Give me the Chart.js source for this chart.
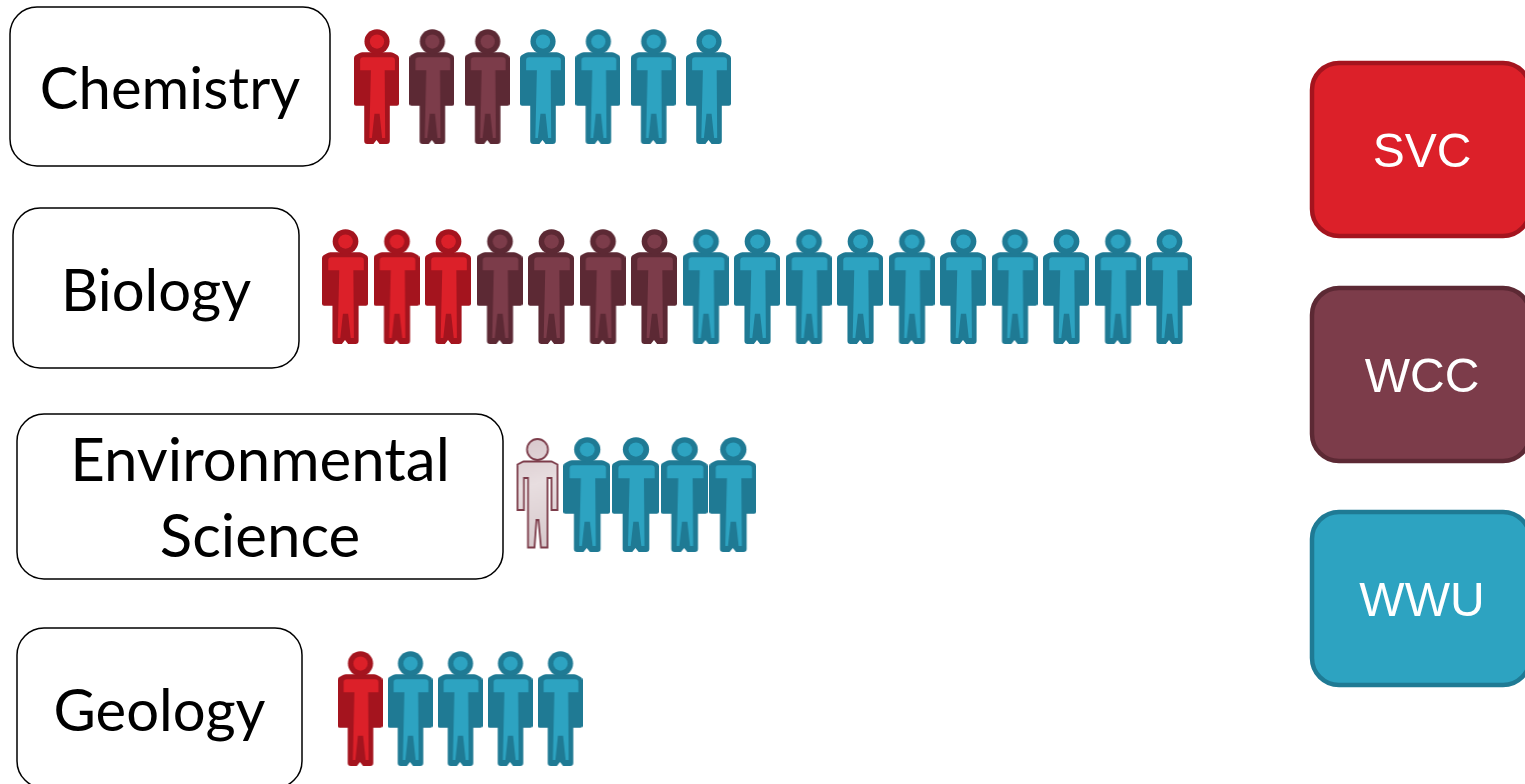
<!DOCTYPE html>
<html lang="en">
<head>
<meta charset="UTF-8">
<title>Students by subject</title>
<script src="https://cdn.jsdelivr.net/npm/chart.js"></script>
<style>
    body { margin: 0; background: #fff; }
    canvas { display: block; }
</style>
</head>
<body>
<canvas id="chart" width="1525" height="784"></canvas>
<script>
// data: number of people per subject and school
const categories = ['Chemistry', 'Biology', 'Environmental\nScience', 'Geology'];
const schools = ['SVC', 'WCC', 'WWU'];
const svc = [1, 3, 0, 1];
const wcc = [2, 4, 0, 0];
const wccPartial = [0, 0, 1, 0];   // the pale outlined figure
const wwu = [4, 10, 4, 4];

// layout of the rows (pixels)
const rowStart = [376.5, 345, 538, 360];
const rowPitch = [55.33, 51.5, 48.7, 50];
const rowY = [86.5, 286.5, 494.5, 708.5];
const rowIconW = [45, 46, 47, 45];
const iconH = 115;
const labelBox = [[10, 7, 320, 159], [13, 208, 286, 160], [17, 414, 486, 165], [17, 628, 285, 160]];
const labelBase = [[109], [311], [481, 557], [731]];
const labelSize = [58, 58, 60, 58];
const legendBox = [[1312, 63], [1312, 288], [1312, 512]];

const colors = {
    SVC: { fill: '#dc2029', dark: '#a4141e' },
    WCC: { fill: '#7c3c4a', dark: '#5c2934' },
    WWU: { fill: '#2da3c1', dark: '#1f7a94' }
};

// outline of a figure in a 44 x 114 box, without the head
function bodyPath(c) {
    c.beginPath();
    c.moveTo(8, 23);
    c.lineTo(36, 23);
    c.quadraticCurveTo(38, 23, 40, 24.5);
    c.lineTo(42.5, 26);
    c.quadraticCurveTo(44, 27, 44, 29);
    c.lineTo(44, 74);
    c.quadraticCurveTo(44, 76, 42, 76);
    c.lineTo(35, 76);
    c.lineTo(35, 111);
    c.quadraticCurveTo(35, 114, 32, 114);
    c.lineTo(25, 114);
    c.lineTo(22, 110);
    c.lineTo(19, 114);
    c.lineTo(13, 114);
    c.quadraticCurveTo(10, 114, 10, 111);
    c.lineTo(10, 76);
    c.lineTo(2, 76);
    c.quadraticCurveTo(0, 76, 0, 74);
    c.lineTo(0, 29);
    c.quadraticCurveTo(0, 27, 1.5, 26);
    c.lineTo(4, 24.5);
    c.quadraticCurveTo(6, 23, 8, 23);
    c.closePath();
}

function makeIcon(col, w) {
    const cv = document.createElement('canvas');
    cv.width = w;
    cv.height = iconH;
    const c = cv.getContext('2d');
    c.scale(w / 44, iconH / 114);
    c.fillStyle = col.dark;
    bodyPath(c);
    c.fill();
    c.beginPath();
    c.arc(22.5, 12.5, 12.3, 0, Math.PI * 2);
    c.fill();
    // lighter centre of the figure
    c.fillStyle = col.fill;
    c.beginPath();
    c.arc(22.5, 12.5, 7, 0, Math.PI * 2);
    c.fill();
    c.beginPath();
    c.moveTo(6, 31);
    c.quadraticCurveTo(6, 28, 9, 28);
    c.lineTo(37, 28);
    c.quadraticCurveTo(40, 28, 40, 31);
    c.lineTo(40, 41);
    c.lineTo(30, 41);
    c.lineTo(30.5, 108);
    c.lineTo(27.5, 108);
    c.lineTo(25, 84);
    c.lineTo(20, 84);
    c.lineTo(17.5, 108);
    c.lineTo(15, 108);
    c.lineTo(16.5, 41);
    c.lineTo(6, 41);
    c.closePath();
    c.fill();
    return cv;
}

function makePaleIcon(col) {
    const cv = document.createElement('canvas');
    cv.width = 47;
    cv.height = iconH;
    const c = cv.getContext('2d');
    const g = c.createLinearGradient(8, 5, 38, 110);
    g.addColorStop(0, '#d8c8cc');
    g.addColorStop(0.4, '#e8dee0');
    g.addColorStop(1, '#d6c8cb');
    c.fillStyle = g;
    c.strokeStyle = col.fill;
    c.lineWidth = 1.8;
    c.beginPath();
    c.arc(23, 12.5, 10.5, 0, Math.PI * 2);
    c.fill();
    c.stroke();
    c.beginPath();
    c.moveTo(9, 24.5);
    c.lineTo(37, 24.5);
    c.lineTo(43, 27.5);
    c.lineTo(43, 73);
    c.lineTo(37, 73);
    c.lineTo(37, 41);
    c.lineTo(33, 41);
    c.lineTo(33, 110.5);
    c.lineTo(26.5, 110.5);
    c.lineTo(24, 83);
    c.lineTo(22, 83);
    c.lineTo(20, 110.5);
    c.lineTo(13.5, 110.5);
    c.lineTo(13.5, 41);
    c.lineTo(9.5, 41);
    c.lineTo(9.5, 73);
    c.lineTo(3, 73);
    c.lineTo(3, 27.5);
    c.closePath();
    c.fill();
    c.stroke();
    return cv;
}

// one dataset per row and school; x is the position of the person in the row
const rowSeries = [
    { school: 'SVC', values: svc },
    { school: 'WCC', values: wcc },
    { school: 'WCC', values: wccPartial, pale: true },
    { school: 'WWU', values: wwu }
];

const datasets = [];
categories.forEach((cat, r) => {
    let n = 0;
    rowSeries.forEach(s => {
        const pts = [];
        for (let i = 0; i < s.values[r]; i++) {
            pts.push({ x: n++, y: rowY[r] });
        }
        if (!pts.length) return;
        const col = colors[s.school];
        datasets.push({
            label: s.school + ' ' + cat,
            data: pts,
            xAxisID: 'x' + r,
            yAxisID: 'y',
            pointStyle: s.pale ? makePaleIcon(col) : makeIcon(col, rowIconW[r]),
            showLine: false
        });
    });
});

const scales = { y: { type: 'linear', display: false, reverse: true, min: 0, max: 784 } };
categories.forEach((cat, r) => {
    scales['x' + r] = {
        type: 'linear',
        display: false,
        min: -rowStart[r] / rowPitch[r],
        max: (1525 - rowStart[r]) / rowPitch[r]
    };
});

// rounded label boxes and the legend on the right
const boxes = {
    id: 'boxes',
    afterDraw(chart) {
        const c = chart.ctx;
        c.save();
        c.textAlign = 'center';
        c.textBaseline = 'alphabetic';
        categories.forEach((cat, r) => {
            const b = labelBox[r];
            c.beginPath();
            c.roundRect(b[0], b[1], b[2], b[3], 27);
            c.fillStyle = '#fff';
            c.fill();
            c.strokeStyle = '#000';
            c.lineWidth = 1.5;
            c.stroke();
            c.fillStyle = '#000';
            c.font = labelSize[r] + 'px Lato';
            cat.split('\n').forEach((line, i) => {
                c.fillText(line, b[0] + b[2] / 2, labelBase[r][i]);
            });
        });
        schools.forEach((name, i) => {
            const p = legendBox[i];
            c.beginPath();
            c.roundRect(p[0], p[1], 218, 173, 27);
            c.fillStyle = colors[name].fill;
            c.fill();
            c.strokeStyle = colors[name].dark;
            c.lineWidth = 4.5;
            c.stroke();
            c.fillStyle = '#fff';
            c.font = '48px "Liberation Sans"';
            c.fillText(name, 1422, p[1] + 104);
        });
        c.restore();
    }
};

new Chart(document.getElementById('chart'), {
    type: 'scatter',
    data: { datasets },
    options: {
        responsive: false,
        animation: false,
        events: [],
        layout: { padding: 0, autoPadding: false },
        scales,
        plugins: { legend: { display: false }, tooltip: { enabled: false } }
    },
    plugins: [boxes]
});
</script>
</body>
</html>
